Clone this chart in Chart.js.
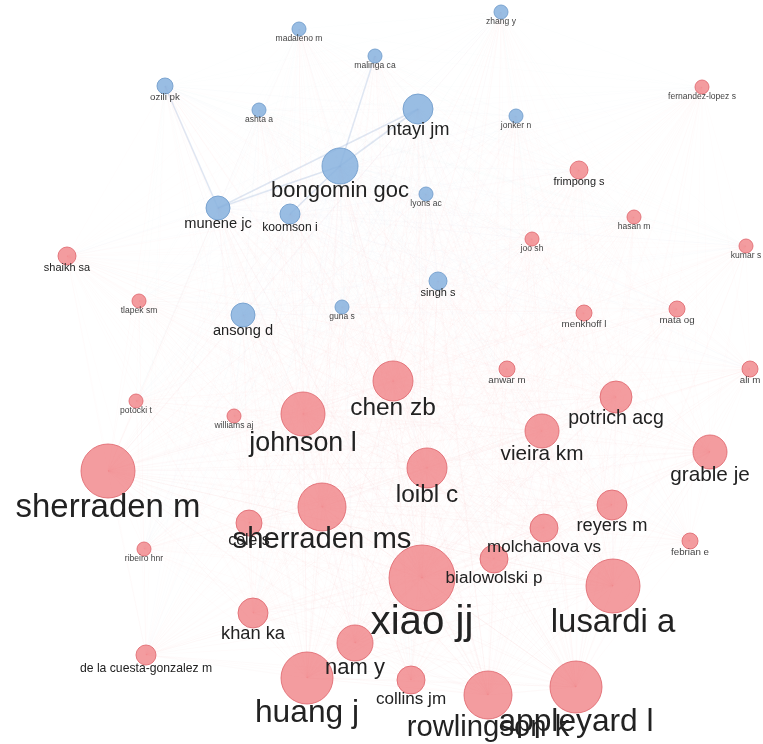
<!DOCTYPE html>
<html lang="en">
<head>
<meta charset="utf-8">
<title>Co-authorship network</title>
<script src="https://cdn.jsdelivr.net/npm/chart.js@4.4.0/dist/chart.umd.min.js"></script>
<style>
  body { margin: 0; background: #fff; }
  #holder { width: 763px; height: 744px; position: relative; }
</style>
</head>
<body>
<div id="holder"><canvas id="chart"></canvas></div>
<script>
// network layout (map coordinates), node weights and clusters
const names = [
  'zhang y', 'madaleno m', 'malinga ca', 'ozili pk', 'ashta a', 'ntayi jm', 'jonker n',
  'bongomin goc', 'lyons ac', 'munene jc', 'koomson i', 'singh s', 'guna s', 'ansong d',
  'fernandez-lopez s', 'frimpong s', 'hasan m', 'joo sh', 'kumar s', 'shaikh sa', 'tlapek sm',
  'mata og', 'menkhoff l', 'anwar m', 'ali m', 'chen zb', 'potrich acg', 'potocki t',
  'johnson l', 'williams aj', 'vieira km', 'grable je', 'loibl c', 'sherraden m',
  'sherraden ms', 'reyers m', 'cole s', 'molchanova vs', 'febrian e', 'ribeiro hnr',
  'bialowolski p', 'xiao jj', 'lusardi a', 'khan ka', 'nam y', 'de la cuesta-gonzalez m',
  'huang j', 'collins jm', 'rowlingson k', 'appleyard l'
];
const posX = [
  501, 299, 375, 165, 259, 418, 516, 340, 426, 218, 290, 438, 342, 243,
  702, 579, 634, 532, 746, 67, 139, 677, 584, 507, 750, 393, 616, 136,
  303, 234, 542, 710, 427, 108, 322, 612, 249, 544, 690, 144,
  494, 422, 613, 253, 355, 146, 307, 411, 488, 576
];
const posY = [
  12, 29, 56, 86, 110, 109, 116, 166, 194, 208, 214, 281, 307, 315,
  87, 170, 217, 239, 246, 256, 301, 309, 313, 369, 369, 381, 397, 401,
  414, 416, 431, 452, 468, 471, 507, 505, 523, 528, 541, 549,
  559, 578, 586, 613, 643, 655, 678, 680, 695, 687
];
const weights = [
  7, 7, 7, 8, 7, 15, 7, 18, 7, 12, 10, 9, 7, 12,
  7, 9, 7, 7, 7, 9, 7, 8, 8, 8, 8, 20, 16, 7,
  22, 7, 17, 17, 20, 27, 24, 15, 13, 14, 8, 7,
  14, 33, 27, 15, 18, 10, 26, 14, 24, 26
];
const clusters = [
  0, 0, 0, 0, 0, 0, 0, 0, 0, 0, 0, 0, 0, 0,
  1, 1, 1, 1, 1, 1, 1, 1, 1, 1, 1, 1, 1, 1,
  1, 1, 1, 1, 1, 1, 1, 1, 1, 1, 1, 1,
  1, 1, 1, 1, 1, 1, 1, 1, 1, 1
];
// stronger co-authorship links [from, to]
const strongLinks = [
  ['bongomin goc', 'munene jc'], ['bongomin goc', 'ntayi jm'], ['bongomin goc', 'malinga ca'],
  ['ntayi jm', 'munene jc'], ['bongomin goc', 'koomson i'], ['ozili pk', 'munene jc']
];

const fills = ['rgba(135, 178, 222, 0.85)', 'rgba(240, 128, 132, 0.78)'];
const borders = ['rgba(115, 158, 205, 0.9)', 'rgba(225, 105, 112, 0.85)'];
const edgeCols = ['rgba(120, 150, 200, ', 'rgba(235, 110, 115, '];

const points = names.map((n, i) => ({ x: posX[i], y: posY[i], r: weights[i], label: n, c: clusters[i] }));

const edgePlugin = {
  id: 'edges',
  beforeDatasetsDraw(chart) {
    const ctx = chart.ctx, sx = chart.scales.x, sy = chart.scales.y;
    ctx.save();
    ctx.lineWidth = 0.8;
    for (let i = 0; i < points.length; i++) {
      for (let j = i + 1; j < points.length; j++) {
        const a = points[i], b = points[j];
        const src = a.r >= b.r ? a : b;
        const alpha = 0.018 + 0.00006 * a.r * b.r;
        ctx.strokeStyle = edgeCols[src.c] + alpha.toFixed(3) + ')';
        ctx.beginPath();
        ctx.moveTo(sx.getPixelForValue(a.x), sy.getPixelForValue(a.y));
        ctx.lineTo(sx.getPixelForValue(b.x), sy.getPixelForValue(b.y));
        ctx.stroke();
      }
    }
    ctx.lineWidth = 1.6;
    strongLinks.forEach(([p, q]) => {
      const a = points[names.indexOf(p)], b = points[names.indexOf(q)];
      ctx.strokeStyle = edgeCols[a.c] + '0.22)';
      ctx.beginPath();
      ctx.moveTo(sx.getPixelForValue(a.x), sy.getPixelForValue(a.y));
      ctx.lineTo(sx.getPixelForValue(b.x), sy.getPixelForValue(b.y));
      ctx.stroke();
    });
    ctx.restore();
  }
};

const labelPlugin = {
  id: 'labels',
  afterDatasetsDraw(chart) {
    const ctx = chart.ctx, sx = chart.scales.x, sy = chart.scales.y;
    ctx.save();
    ctx.textAlign = 'center';
    ctx.textBaseline = 'middle';
    const order = points.slice().sort((a, b) => a.r - b.r);
    order.forEach(p => {
      const size = Math.max(8, p.r * 1.22);
      ctx.font = size + 'px "Liberation Sans", Arial, sans-serif';
      ctx.fillStyle = p.r <= 8 ? '#444' : '#222';
      ctx.fillText(p.label, sx.getPixelForValue(p.x), sy.getPixelForValue(p.y) + p.r + size * 0.3);
    });
    ctx.restore();
  }
};

new Chart(document.getElementById('chart'), {
  type: 'bubble',
  data: {
    datasets: [{
      data: points,
      backgroundColor: points.map(p => fills[p.c]),
      borderColor: points.map(p => borders[p.c]),
      borderWidth: 1,
      clip: false
    }]
  },
  options: {
    responsive: true,
    maintainAspectRatio: false,
    animation: false,
    events: [],
    layout: { padding: 0, autoPadding: false },
    plugins: { legend: { display: false }, tooltip: { enabled: false } },
    scales: {
      x: { type: 'linear', min: 0, max: 763, display: false },
      y: { type: 'linear', min: 0, max: 744, reverse: true, display: false }
    }
  },
  plugins: [edgePlugin, labelPlugin]
});
</script>
</body>
</html>
